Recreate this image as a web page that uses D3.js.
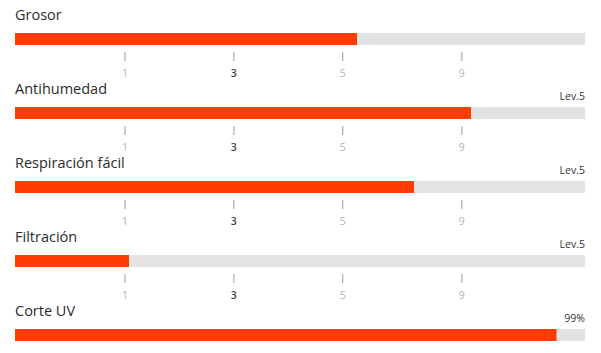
<!DOCTYPE html>
<html>
<head>
<meta charset="utf-8">
<script src="https://cdn.jsdelivr.net/npm/d3@7"></script>
<style>
  body { margin: 0; background: #fff; }
  text { font-family: "Open Sans", sans-serif; }
</style>
</head>
<body>
<svg class="chart" width="601" height="353"></svg>
<script>
// rows of the spec list
const names = ["Grosor", "Antihumedad", "Respiración fácil", "Filtración", "Corte UV"];
const values = [60, 80, 70, 20, 95];
const badges = ["", "Lev.5", "Lev.5", "Lev.5", "99%"];
const showTicks = [true, true, true, true, false];

// scale marks under the bars
const tickLabels = ["1", "3", "5", "9"];
const tickPos = [19.3, 38.4, 57.5, 78.4];
const tickActive = "3";

let svg = d3.select(".chart");

let x = d3.scaleLinear().domain([0, 100]).range([15, 585]);
let y = d3.scaleBand().domain(names).range([0, 370]);

let rows = svg.selectAll(".row")
  .data(names)
  .enter()
  .append("g")
  .attr("class", "row")
  .attr("transform", d => `translate(0,${y(d)})`);

rows.append("text")
  .attr("x", 15)
  .attr("y", 20)
  .attr("font-size", "14.5px")
  .attr("fill", "#2b2b2b")
  .text(d => d);

rows.append("text")
  .attr("x", 585)
  .attr("y", 26)
  .attr("text-anchor", "end")
  .attr("font-size", "10.5px")
  .attr("fill", "#333")
  .text((d, i) => badges[i]);

rows.append("rect")
  .attr("x", x(0))
  .attr("y", 33)
  .attr("width", x(100) - x(0))
  .attr("height", 12)
  .attr("fill", "#e3e3e3");

rows.append("rect")
  .attr("x", x(0))
  .attr("y", 33)
  .attr("width", (d, i) => x(values[i]) - x(0))
  .attr("height", 12)
  .attr("fill", "#ff3d00");

// tick marks
rows.filter((d, i) => showTicks[i]).each(function () {
  let g = d3.select(this);
  g.selectAll(".tk")
    .data(tickLabels)
    .enter()
    .append("line")
    .attr("x1", (d, i) => x(tickPos[i]))
    .attr("x2", (d, i) => x(tickPos[i]))
    .attr("y1", 52)
    .attr("y2", 61)
    .style("stroke", "#999")
    .style("stroke-width", 1);
  g.selectAll(".tl")
    .data(tickLabels)
    .enter()
    .append("text")
    .attr("x", (d, i) => x(tickPos[i]))
    .attr("y", 77)
    .attr("text-anchor", "middle")
    .attr("font-size", "10.5px")
    .attr("font-weight", d => d === tickActive ? 600 : "normal")
    .attr("fill", d => d === tickActive ? "#444" : "#b5b5b5")
    .text(d => d);
});
</script>
</body>
</html>
